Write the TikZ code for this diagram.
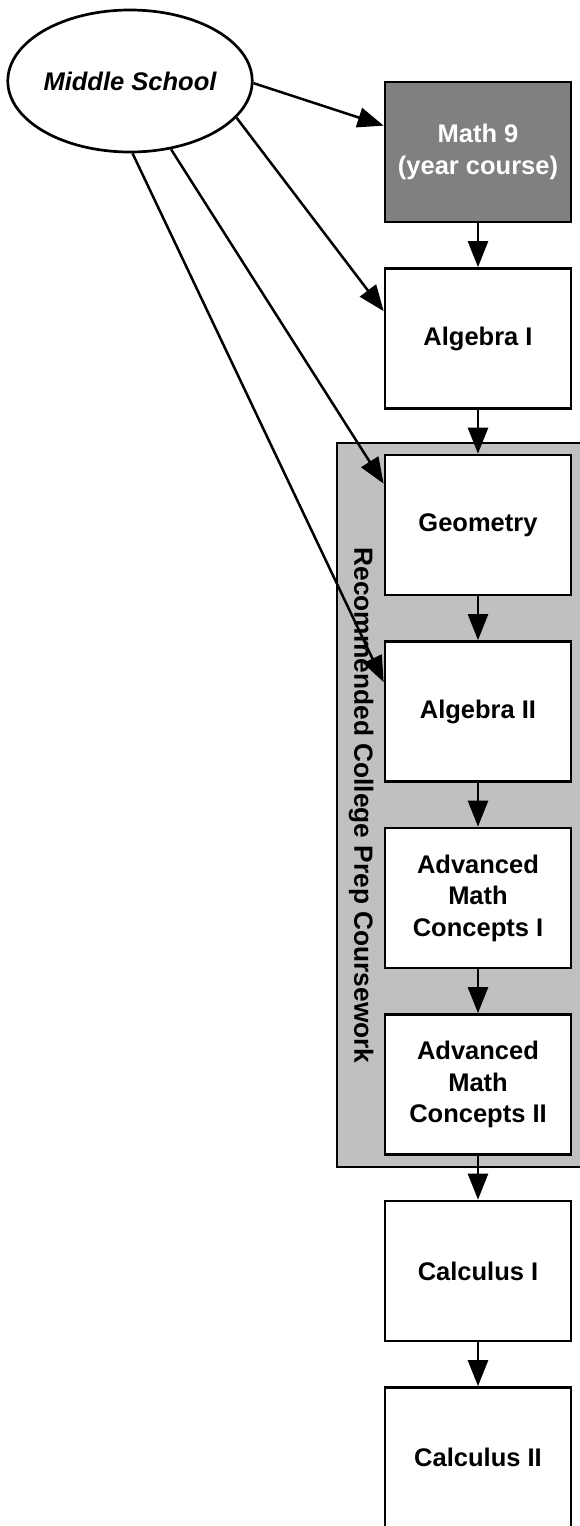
\documentclass[tikz,border=0pt]{standalone}
\usepackage{fontspec}
\setmainfont{Liberation Sans}
\usetikzlibrary{shapes.geometric,arrows.meta}
\tikzset{
  course/.style={draw=black, line width=2.7pt, fill=white, minimum width=186pt, minimum height=140pt, inner sep=0pt, align=center, font=\fontsize{25.5}{31.5}\selectfont\bfseries},
  grey course/.style={course, fill=gray50},
  edge/.style={line width=2.5pt, -{Triangle[length=26pt,width=20pt]}},
  cluster/.style={draw=black, line width=2.7pt, fill=clustergrey},
}
\definecolor{gray50}{RGB}{128,128,128}
\definecolor{clustergrey}{RGB}{192,192,192}
\begin{document}
\begin{tikzpicture}[x=1pt,y=-1pt]
\clip (0,0) rectangle (580,1526);
\fill[white] (0,0) rectangle (580,1526);
% cluster
\draw[cluster] (337,443) rectangle (600,1167);
\node[rotate=-90, font=\fontsize{26.3}{30}\selectfont\bfseries] (clab) at (361,805.5) {Recommended College Prep Coursework};
% nodes
\node[ellipse, draw=black, line width=2.7pt, fill=white, minimum width=237pt, minimum height=142pt, inner sep=0pt, font=\fontsize{25.5}{30}\selectfont\bfseries\itshape] (ms) at (130,81) {Middle School};
\node[grey course, text=white] (m9) at (478,152) {Math 9\\(year course)};
\node[course] (a1) at (478,338.5) {Algebra I};
\node[course] (geo) at (478,525) {Geometry};
\node[course] (a2) at (478,711.5) {Algebra II};
\node[course] (amc1) at (478,898) {Advanced\\Math\\Concepts I};
\node[course] (amc2) at (478,1084.5) {Advanced\\Math\\Concepts II};
\node[course] (c1) at (478,1271) {Calculus I};
\node[course] (c2) at (478,1457.5) {Calculus II};
% edges
\draw[edge] (ms.-1) -- ([yshift=-45pt]m9.north west);
\draw[edge] (ms.-19) -- ([yshift=-44pt]a1.north west);
\draw[edge] (ms.-59) -- ([yshift=-30pt]geo.north west);
\draw[edge] (ms.-88) -- ([yshift=-42pt]a2.north west);
\draw[edge] (m9) -- (a1);
\draw[edge] (a1) -- (geo);
\draw[edge] (geo) -- (a2);
\draw[edge] (a2) -- (amc1);
\draw[edge] (amc1) -- (amc2);
\draw[edge] (amc2) -- (c1);
\draw[edge] (c1) -- (c2);
\end{tikzpicture}
\end{document}
